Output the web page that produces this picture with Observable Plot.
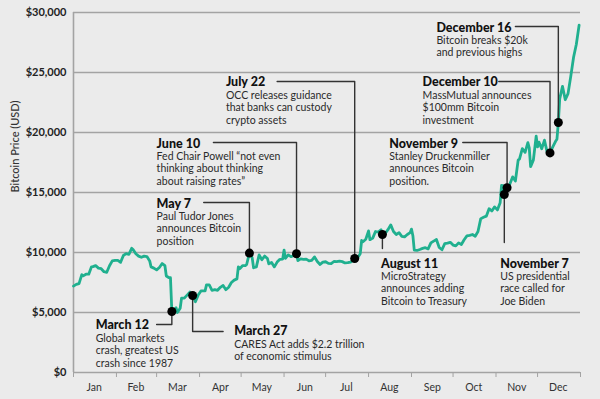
<!DOCTYPE html>
<html>
<head>
<meta charset="utf-8">
<script src="https://cdn.jsdelivr.net/npm/d3@7"></script>
<script src="https://cdn.jsdelivr.net/npm/@observablehq/plot@0.6"></script>
<style>
  html, body { margin: 0; padding: 0; background: #ebebeb; }
  #chart { width: 600px; height: 399px; }
</style>
</head>
<body>
<div id="chart"></div>
<script>
// ---- Price series (Bitcoin, 2020) ----
const priceDates = [
 "2020-01-01","2020-01-03","2020-01-05","2020-01-07","2020-01-08","2020-01-10","2020-01-12","2020-01-14","2020-01-15","2020-01-17",
 "2020-01-19","2020-01-21","2020-01-23","2020-01-25","2020-01-27","2020-01-29","2020-01-31","2020-02-02","2020-02-04","2020-02-06",
 "2020-02-08","2020-02-10","2020-02-12","2020-02-13","2020-02-15","2020-02-17","2020-02-19","2020-02-21","2020-02-23","2020-02-25",
 "2020-02-26","2020-02-28","2020-03-01","2020-03-03","2020-03-05","2020-03-07","2020-03-08","2020-03-10","2020-03-11","2020-03-12",
 "2020-03-13","2020-03-15","2020-03-16","2020-03-18","2020-03-19","2020-03-21","2020-03-23","2020-03-25","2020-03-27","2020-03-29",
 "2020-03-31","2020-04-02","2020-04-05","2020-04-06","2020-04-08","2020-04-10","2020-04-12","2020-04-14","2020-04-16","2020-04-18",
 "2020-04-20","2020-04-22","2020-04-24","2020-04-26","2020-04-28","2020-04-29","2020-04-30","2020-05-02","2020-05-04","2020-05-05",
 "2020-05-07","2020-05-08","2020-05-09","2020-05-10","2020-05-12","2020-05-13","2020-05-14","2020-05-16","2020-05-18","2020-05-20",
 "2020-05-21","2020-05-23","2020-05-25","2020-05-27","2020-05-29","2020-05-31","2020-06-01","2020-06-02","2020-06-04","2020-06-06",
 "2020-06-08","2020-06-10","2020-06-11","2020-06-13","2020-06-15","2020-06-17","2020-06-19","2020-06-21","2020-06-23","2020-06-25",
 "2020-06-27","2020-06-29","2020-07-01","2020-07-03","2020-07-05","2020-07-07","2020-07-09","2020-07-11","2020-07-13","2020-07-15",
 "2020-07-17","2020-07-19","2020-07-21","2020-07-22","2020-07-24","2020-07-26","2020-07-27","2020-07-28","2020-07-30","2020-08-01",
 "2020-08-02","2020-08-04","2020-08-06","2020-08-08","2020-08-10","2020-08-11","2020-08-13","2020-08-15","2020-08-17","2020-08-19",
 "2020-08-21","2020-08-23","2020-08-25","2020-08-27","2020-08-29","2020-08-31","2020-09-01","2020-09-02","2020-09-03","2020-09-05",
 "2020-09-07","2020-09-09","2020-09-11","2020-09-13","2020-09-15","2020-09-17","2020-09-19","2020-09-21","2020-09-23","2020-09-25",
 "2020-09-27","2020-09-29","2020-10-01","2020-10-03","2020-10-05","2020-10-07","2020-10-09","2020-10-11","2020-10-13","2020-10-15",
 "2020-10-17","2020-10-19","2020-10-21","2020-10-23","2020-10-25","2020-10-27","2020-10-29","2020-10-31","2020-11-02","2020-11-04",
 "2020-11-05","2020-11-06","2020-11-07","2020-11-08","2020-11-09","2020-11-11","2020-11-13","2020-11-15","2020-11-17","2020-11-18",
 "2020-11-20","2020-11-22","2020-11-24","2020-11-25","2020-11-26","2020-11-28","2020-11-30","2020-12-01","2020-12-02","2020-12-04",
 "2020-12-06","2020-12-08","2020-12-10","2020-12-12","2020-12-14","2020-12-15","2020-12-16","2020-12-17","2020-12-19","2020-12-21",
 "2020-12-23","2020-12-25","2020-12-27","2020-12-29","2020-12-31"
];
const priceValues = [
 7200,7340,7410,8150,8050,8190,8190,8810,8820,8910,
 8700,8650,8400,8350,8900,9300,9350,9350,9180,9750,
 9900,9850,10350,10250,9900,9700,9600,9700,9660,9300,
 8800,8700,8550,8750,9080,8900,8040,7900,7900,5080,
 5200,5400,5000,5350,6200,6200,6450,6700,6420,5900,
 6450,6800,6800,7300,7300,6850,6900,6850,7100,7250,
 6900,7100,7500,7700,7800,8800,8650,8900,8900,9000,
 9950,9800,9550,8730,8800,9300,9800,9400,9700,9500,
 9060,9170,8800,9200,9430,9450,10200,9520,9800,9650,
 9750,9900,9320,9470,9430,9450,9300,9350,9630,9250,
 9000,9200,9230,9090,9070,9250,9240,9280,9240,9130,
 9150,9200,9390,9500,9550,9900,11000,10900,11100,11800,
 11070,11200,11750,11700,11900,11500,11600,11900,12300,11750,
 11500,11650,11350,11300,11500,11650,11950,11400,10200,10170,
 10250,10340,10400,10300,10800,10950,11080,10420,10230,10740,
 10780,10850,10620,10550,10800,10670,11060,11380,11430,11500,
 11360,11750,12820,12930,13030,13650,13460,13800,13550,14150,
 15590,15580,14830,15480,15400,15700,16300,15960,17700,17800,
 18650,18350,19150,18720,17150,17720,19700,18800,19200,18650,
 19360,18320,18300,18800,19270,19440,20830,22800,23850,22730,
 23240,24700,26270,27360,28950
];

// ---- Axis ticks ----
const yTicks = [0, 5000, 10000, 15000, 20000, 25000, 30000];
const monthStarts = ["2020-01-01","2020-02-01","2020-03-01","2020-04-01","2020-05-01","2020-06-01",
                     "2020-07-01","2020-08-01","2020-09-01","2020-10-01","2020-11-01","2020-12-01","2021-01-01"];
const monthLabelDates = ["2020-01-16","2020-02-15","2020-03-16","2020-04-16","2020-05-16","2020-06-16",
                         "2020-07-16","2020-08-16","2020-09-16","2020-10-16","2020-11-16","2020-12-16"];
const monthLabels = ["Jan","Feb","Mar","Apr","May","Jun","Jul","Aug","Sep","Oct","Nov","Dec"];

// ---- Events / annotations ----
const eventDates = ["2020-03-12","2020-03-27","2020-05-07","2020-06-10","2020-07-22",
                    "2020-08-11","2020-11-07","2020-11-09","2020-12-10","2020-12-16"];
const eventTitles = ["March 12","March 27","May 7","June 10","July 22",
                     "August 11","November 7","November 9","December 10","December 16"];
const eventTexts = [
  "Global markets\ncrash, greatest US\ncrash since 1987",
  "CARES Act adds $2.2 trillion\nof economic stimulus",
  "Paul Tudor Jones\nannounces Bitcoin\nposition",
  "Fed Chair Powell \u201cnot even\nthinking about thinking\nabout raising rates\u201d",
  "OCC releases guidance\nthat banks can custody\ncrypto assets",
  "MicroStrategy\nannounces adding\nBitcoin to Treasury",
  "US presidential\nrace called for\nJoe Biden",
  "Stanley Druckenmiller\nannounces Bitcoin\nposition.",
  "MassMutual announces\n$100mm Bitcoin\ninvestment",
  "Bitcoin breaks $20k\nand previous highs"
];
// label anchor (data space)
const labelDates  = ["2020-01-17","2020-04-26","2020-03-01","2020-03-01","2020-04-20",
                     "2020-08-10","2020-11-04","2020-08-16","2020-09-09","2020-09-19"];
const labelPrices = [3917, 3417, 14083, 19083, 24167, 9083, 9083, 19083, 24167, 28750];
// connector elbow (data space)
const connectorDates  = ["2020-03-01","2020-04-18","2020-04-04","2020-04-11","2020-05-27",
                         "2020-08-11","2020-11-07","2020-10-08","2020-11-03","2020-11-15"];
const connectorPrices = [4000, 3417, 14167, 19167, 24250, 10333, 10833, 19167, 24250, 28833];

// ---- Build tables ----
const parse = d3.utcParse("%Y-%m-%d");
const prices = priceDates.map((d, i) => ({date: parse(d), price: priceValues[i]}));
const priceAt = new Map(prices.map(p => [+p.date, p.price]));
const events = eventDates.map((d, i) => ({
  id: i,
  date: parse(d),
  price: priceAt.get(+parse(d)),
  title: eventTitles[i],
  text: eventTexts[i],
  labelDate: parse(labelDates[i]),
  labelPrice: labelPrices[i],
  cDate: parse(connectorDates[i]),
  cPrice: connectorPrices[i]
}));
const connectors = events.flatMap(e => [
  {id: e.id, date: e.cDate, price: e.cPrice},
  {id: e.id, date: e.date, price: e.cPrice},
  {id: e.id, date: e.date, price: e.price}
]);

const FONT = "Lato, 'Open Sans', sans-serif";
const GRID = "#a3a3a3";

const chart = Plot.plot({
  width: 600,
  height: 399,
  marginLeft: 73,
  marginRight: 20,
  marginTop: 12,
  marginBottom: 27,
  style: {background: "#ebebeb", fontFamily: FONT, color: "#222"},
  x: {type: "utc", domain: [parse("2020-01-01"), parse("2021-01-01")]},
  y: {domain: [0, 30000]},
  marks: [
    Plot.ruleY(yTicks, {stroke: GRID, strokeWidth: 1.6}),
    Plot.ruleX([parse("2020-01-01")], {stroke: GRID, strokeWidth: 1.6}),
    Plot.axisY(yTicks, {tickSize: 0, tickPadding: 7, fontSize: 11, fontWeight: 700,
      tickFormat: d => "$" + d3.format(",")(d), label: null}),
    Plot.text(["Bitcoin Price (USD)"], {frameAnchor: "left", dx: -58, rotate: -90,
      fontSize: 11, fill: "#333", fontWeight: 500}),
    Plot.axisX(monthStarts.map(parse), {tickSize: 5, stroke: GRID, tickFormat: () => "", label: null}),
    Plot.axisX(monthLabelDates.map(parse), {tickSize: 0, tickPadding: 11, fontSize: 10.5, fill: "#333",
      tickFormat: (d, i) => monthLabels[i], label: null}),
    Plot.line(prices, {x: "date", y: "price", stroke: "#20b08f", strokeWidth: 2.8, strokeLinejoin: "round"}),
    Plot.line(connectors, {x: "date", y: "price", z: "id", stroke: "#333", strokeWidth: 1.4}),
    Plot.dot(events, {x: "date", y: "price", r: 4.5, fill: "#000"}),
    Plot.text(events, {x: "labelDate", y: "labelPrice", text: "title", textAnchor: "start",
      fontSize: 12.5, fontWeight: 900, fill: "#111"}),
    Plot.text(events, {x: "labelDate", y: "labelPrice", text: "text", textAnchor: "start",
      lineAnchor: "top", dy: 7.5, fontSize: 10.5, lineHeight: 1.19, fill: "#2a2a2a"})
  ]
});
document.getElementById("chart").appendChild(chart);
</script>
</body>
</html>
